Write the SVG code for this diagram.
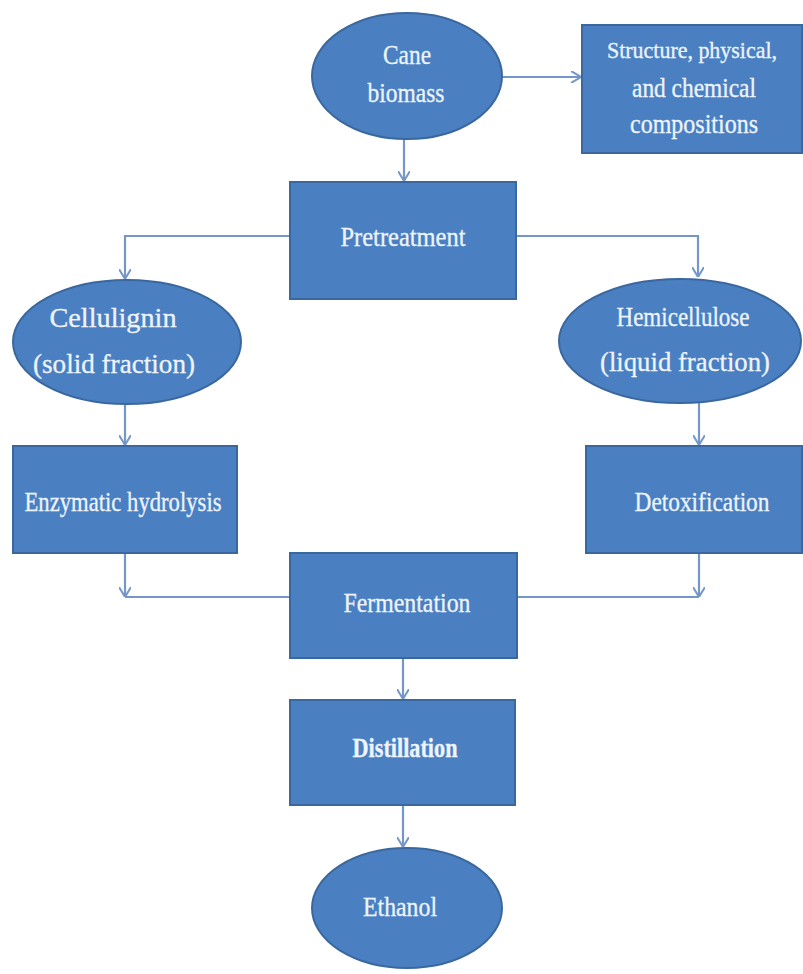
<svg xmlns="http://www.w3.org/2000/svg" width="803" height="974" viewBox="0 0 803 974">
<defs>
<style>
.n{fill:#4a80c2;stroke:#3a679e;stroke-width:2}
.t{font-family:"Liberation Serif","DejaVu Serif",serif;font-size:27px;fill:#eef4fb;text-anchor:middle;dominant-baseline:central;stroke:#eef4fb;stroke-width:0.3}
.s{font-size:23px}
.c{fill:none;stroke:#7497c8;stroke-width:2.2}
</style>
<marker id="a" viewBox="0 0 10 12" refX="10" refY="6" markerWidth="10" markerHeight="12" markerUnits="userSpaceOnUse" orient="auto">
<path d="M0,0 L10,6 L0,12" fill="none" stroke="#7497c8" stroke-width="2"/>
</marker>
</defs>
<rect width="803" height="974" fill="#ffffff"/>
<g id="connectors">
<path class="c" d="M404,139 V181" marker-end="url(#a)"/>
<path class="c" d="M502,77 H581" marker-end="url(#a)"/>
<path class="c" d="M290,236 H125 V279" marker-end="url(#a)"/>
<path class="c" d="M515,236 H698 V277" marker-end="url(#a)"/>
<path class="c" d="M125,405 V445" marker-end="url(#a)"/>
<path class="c" d="M699,403 V445" marker-end="url(#a)"/>
<path class="c" d="M125,553 V597" marker-end="url(#a)"/>
<path class="c" d="M125,597 H290"/>
<path class="c" d="M699,553 V597" marker-end="url(#a)"/>
<path class="c" d="M699,597 H517"/>
<path class="c" d="M403,658 V699" marker-end="url(#a)"/>
<path class="c" d="M403,805 V847" marker-end="url(#a)"/>
</g>
<g id="cane">
<ellipse class="n" cx="407" cy="76" rx="95" ry="63"/>
<text class="t" x="407" y="55" textLength="48" lengthAdjust="spacingAndGlyphs">Cane</text>
<text class="t" x="406" y="93" textLength="77" lengthAdjust="spacingAndGlyphs">biomass</text>
</g>
<g id="structure">
<rect class="n" x="582" y="25" width="220" height="128"/>
<text class="t s" x="692" y="50" textLength="170" lengthAdjust="spacingAndGlyphs">Structure, physical,</text>
<text class="t" x="694" y="88" textLength="124" lengthAdjust="spacingAndGlyphs">and chemical</text>
<text class="t" x="694" y="124" textLength="128" lengthAdjust="spacingAndGlyphs">compositions</text>
</g>
<g id="pretreatment">
<rect class="n" x="290" y="182" width="226" height="117"/>
<text class="t" x="403" y="237" textLength="125" lengthAdjust="spacingAndGlyphs">Pretreatment</text>
</g>
<g id="cellulignin">
<ellipse class="n" cx="127" cy="342" rx="114" ry="62"/>
<text class="t" x="113" y="318" textLength="127" lengthAdjust="spacingAndGlyphs">Cellulignin</text>
<text class="t" x="114" y="364" textLength="162" lengthAdjust="spacingAndGlyphs">(solid fraction)</text>
</g>
<g id="hemicellulose">
<ellipse class="n" cx="680" cy="341" rx="121" ry="62"/>
<text class="t" x="683" y="317" textLength="133" lengthAdjust="spacingAndGlyphs">Hemicellulose</text>
<text class="t" x="685" y="362" textLength="170" lengthAdjust="spacingAndGlyphs">(liquid fraction)</text>
</g>
<g id="enzymatic">
<rect class="n" x="13" y="446" width="224" height="107"/>
<text class="t" x="123" y="502" textLength="197" lengthAdjust="spacingAndGlyphs">Enzymatic hydrolysis</text>
</g>
<g id="detox">
<rect class="n" x="586" y="446" width="216" height="107"/>
<text class="t" x="702" y="502" textLength="135" lengthAdjust="spacingAndGlyphs">Detoxification</text>
</g>
<g id="fermentation">
<rect class="n" x="290" y="553" width="227" height="105"/>
<text class="t" x="407" y="603" textLength="127" lengthAdjust="spacingAndGlyphs">Fermentation</text>
</g>
<g id="distillation">
<rect class="n" x="290" y="700" width="225" height="105"/>
<text class="t" x="405" y="748" textLength="105" lengthAdjust="spacingAndGlyphs" font-weight="bold">Distillation</text>
</g>
<g id="ethanol">
<ellipse class="n" cx="407" cy="908" rx="95" ry="60"/>
<text class="t" x="400" y="907" textLength="74" lengthAdjust="spacingAndGlyphs">Ethanol</text>
</g>
</svg>
